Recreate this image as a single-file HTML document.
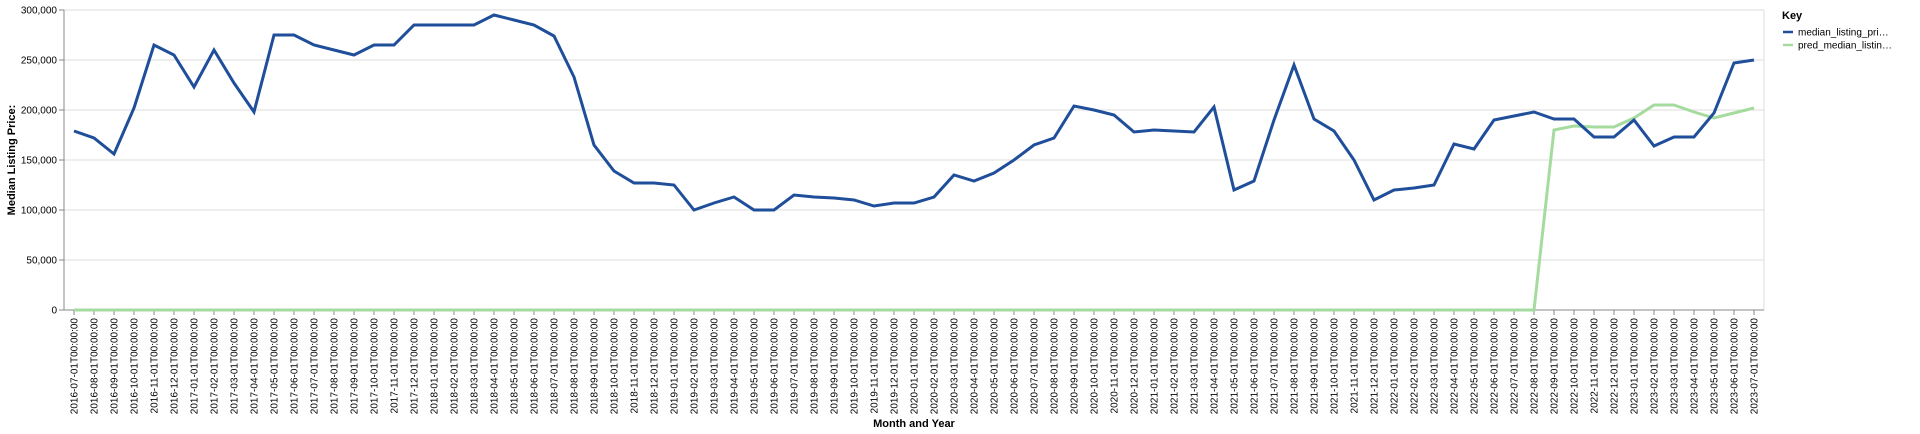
<!DOCTYPE html>
<html><head><meta charset="utf-8"><style>
html,body{margin:0;padding:0;background:#fff;}
svg{display:block;font-family:"Liberation Sans",Arial,sans-serif;}
</style></head><body>
<svg id="chart" width="1920" height="434" viewBox="0 0 1920 434" xmlns="http://www.w3.org/2000/svg">
<g id="grid"></g>
<g id="yaxis"></g>
<g id="xaxis"></g>
<g id="marks"></g>
<text transform="translate(15,160) rotate(-90)" text-anchor="middle" font-size="11" font-weight="bold" fill="#000">Median Listing Price:</text>
<text x="914" y="427" text-anchor="middle" font-size="11" font-weight="bold" fill="#000">Month and Year</text>
<g>
<text x="1782" y="19" font-size="11" font-weight="bold" fill="#000">Key</text>
<g><line x1="1783" y1="32" x2="1793" y2="32" stroke="#1f4e9a" stroke-width="2.5"/><text x="1798" y="35.5" font-size="10" fill="#000">median_listing_pri…</text></g>
<g><line x1="1783" y1="45" x2="1793" y2="45" stroke="#a6dba0" stroke-width="2.5"/><text x="1798" y="48.5" font-size="10" fill="#000">pred_median_listin…</text></g>
</g>
</svg>
<script>
const actualValues = [179000,172000,156000,202000,265000,255000,223000,260000,227000,198000,275000,275000,265000,260000,255000,265000,265000,285000,285000,285000,285000,295000,290000,285000,274000,233000,165000,139000,127000,127000,125000,100000,107000,113000,100000,100000,115000,113000,112000,110000,104000,107000,107000,113000,135000,129000,137000,150000,165000,172000,204000,200000,195000,178000,180000,179000,178000,203000,120000,129000,190000,245000,191000,179000,150000,110000,120000,122000,125000,166000,161000,190000,194000,198000,191000,191000,173000,173000,190000,164000,173000,173000,197000,247000,250000];
const predValues = [0,0,0,0,0,0,0,0,0,0,0,0,0,0,0,0,0,0,0,0,0,0,0,0,0,0,0,0,0,0,0,0,0,0,0,0,0,0,0,0,0,0,0,0,0,0,0,0,0,0,0,0,0,0,0,0,0,0,0,0,0,0,0,0,0,0,0,0,0,0,0,0,0,0,180000,184000,183000,183000,192000,205000,205000,198000,192000,197000,202000];
const yTicks = [0,50000,100000,150000,200000,250000,300000];
const startYear = 2016, startMonth = 7, monthCount = 85;
const categories = [];
for (let i=0;i<monthCount;i++){const m=startMonth-1+i;const y=startYear+Math.floor(m/12);const mm=(m%12)+1;categories.push(y+'-'+String(mm).padStart(2,'0')+'-01T00:00:00');}

const NS='http://www.w3.org/2000/svg';
const L=64,R=1764,T=10,B=310;
const step=(R-L)/categories.length;
const xs=i=>L+step*(i+0.5);
const ys=v=>B-(v/300000)*(B-T);
function el(tag,attrs,parent){const e=document.createElementNS(NS,tag);for(const k in attrs)e.setAttribute(k,attrs[k]);parent.appendChild(e);return e;}
const grid=document.getElementById('grid'),yaxis=document.getElementById('yaxis'),xaxis=document.getElementById('xaxis'),marks=document.getElementById('marks');
yTicks.forEach(t=>{
  const g=el('line',{x1:L,x2:R,y1:ys(t),y2:ys(t),stroke:'#ddd','stroke-width':1},grid);
  
  
  el('line',{x1:L-5,x2:L,y1:ys(t),y2:ys(t),stroke:'#888'},yaxis);
  const tx=el('text',{x:L-7,y:ys(t)+3.5,'text-anchor':'end','font-size':10,fill:'#000'},yaxis);
  tx.textContent=t.toLocaleString('en-US');
  
  
});
el('line',{x1:R,x2:R,y1:T,y2:B,stroke:'#ddd'},grid);
el('line',{x1:L,x2:L,y1:T,y2:B,stroke:'#888'},yaxis);
el('line',{x1:L,x2:R,y1:B,y2:B,stroke:'#888'},xaxis);
categories.forEach((c,i)=>{
  const x=xs(i);
  el('line',{x1:x,x2:x,y1:B,y2:B+5,stroke:'#888'},xaxis);
  const tx=el('text',{transform:'translate('+(x+3.5)+','+(B+8)+') rotate(-90)','text-anchor':'end','font-size':10,fill:'#000'},xaxis);
  tx.textContent=c;
  
  
});
function line(vals,color,name){
  const d=vals.map((v,i)=>(i?'L':'M')+xs(i).toFixed(1)+','+ys(v).toFixed(1)).join('');
  const p=el('path',{d:d,fill:'none',stroke:color,'stroke-width':3,'stroke-linejoin':'miter'},marks);
  
  
}
line(predValues,'#a6dba0','pred-median-line');
line(actualValues,'#1f4e9a','median-listing-price-line');
</script>
</body></html>
